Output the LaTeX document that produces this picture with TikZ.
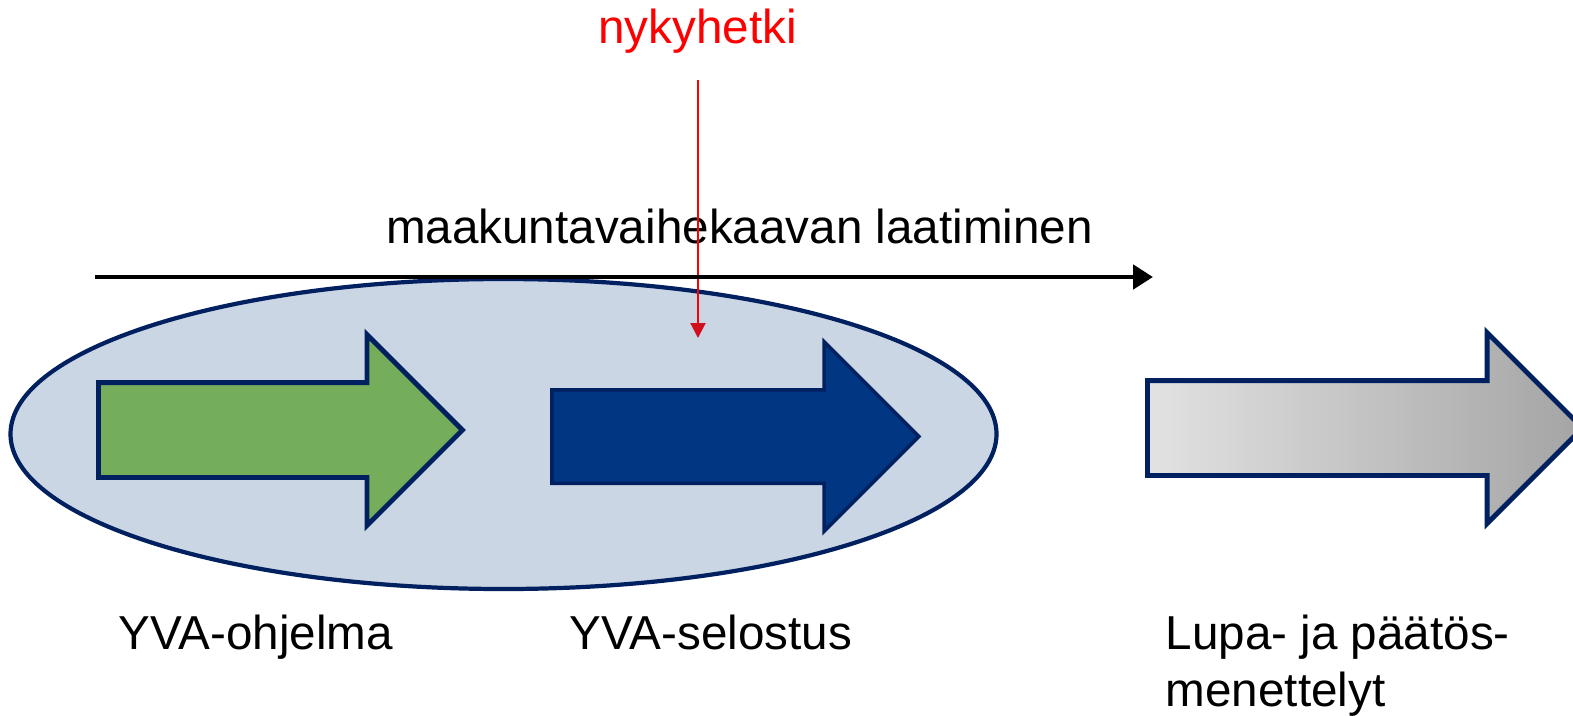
\documentclass[tikz,border=0pt]{standalone}
\usepackage{fontspec}
\setmainfont{Liberation Sans}
\usepackage{tikz}
\usetikzlibrary{shapes,arrows.meta,positioning}
\definecolor{navy}{HTML}{002060}
\definecolor{kaavafill}{HTML}{CAD6E4}
\definecolor{yvagreen}{HTML}{74AE5A}
\definecolor{yvablue}{HTML}{003682}
\definecolor{lupalight}{HTML}{E2E2E2}
\definecolor{lupadark}{HTML}{A4A4A4}
\definecolor{nowred}{HTML}{FF0000}
\definecolor{nowtip}{HTML}{D0101C}
\tikzstyle{kaava} = [ellipse, draw=navy, fill=kaavafill, line width=1.2pt, minimum width=9.86cm, minimum height=3.1cm, inner sep=0pt]
\tikzstyle{phase} = [single arrow, draw=navy, line width=1.4pt, single arrow head extend=0.48cm, minimum width=1.89cm, inner xsep=0pt, inner ysep=0.45cm, anchor=west]
\tikzstyle{phasetext} = [anchor=base west, inner sep=0pt, align=left, font=\fontsize{13.55}{16.2}\selectfont]
\tikzstyle{timeline} = [draw, line width=1.4pt, -{Triangle[length=0.2cm,width=0.24cm]}]
\tikzstyle{nowline} = [draw, color=nowred, line width=0.6pt, -{Triangle[length=0.15cm,width=0.15cm,color=nowtip]}]
\newcommand{\phase}[3]{node (a#1) [phase, minimum height=#2, #3] {}}
\newcommand{\phasetext}[2]{node (t#1) [phasetext] {#2}}

\begin{document}
\begin{tikzpicture}
\useasboundingbox (0,0) rectangle (15.73,-7.15);
\path (5.035,-4.34) node (kaava) [kaava] {};
\path (0.96,-4.30) \phase{1}{3.64cm}{fill=yvagreen};
\path (5.50,-4.365) \phase{2}{3.67cm}{fill=yvablue, line width=1pt};
\path (11.45,-4.28) \phase{3}{4.35cm}{left color=lupalight, right color=lupadark};

\path (a1.west)+(0.22,-2.19) \phasetext{1}{YVA-ohjelma};
\path (a2.west)+(0.19,-2.125) \phasetext{2}{YVA-selostus};
\path (a3.west)+(0.20,-2.78) \phasetext{3}{Lupa- ja päätös-\\menettelyt};

\coordinate (ls) at (0.95,-2.77);
\coordinate (le) at (11.53,-2.77);
\path (ls)+(6.445,0.34) node (vaihe) [phasetext, anchor=base] {maakuntavaihekaavan laatiminen};

\path (6.975,-0.43) node (now) [phasetext, anchor=base, text=nowred] {nykyhetki};
\coordinate (ns) at (6.98,-0.80);
\coordinate (ne) at (6.98,-3.38);
\path [nowline] (ns) -- (ne);
\path [timeline] (ls) -- (le);
\end{tikzpicture}
\end{document}
